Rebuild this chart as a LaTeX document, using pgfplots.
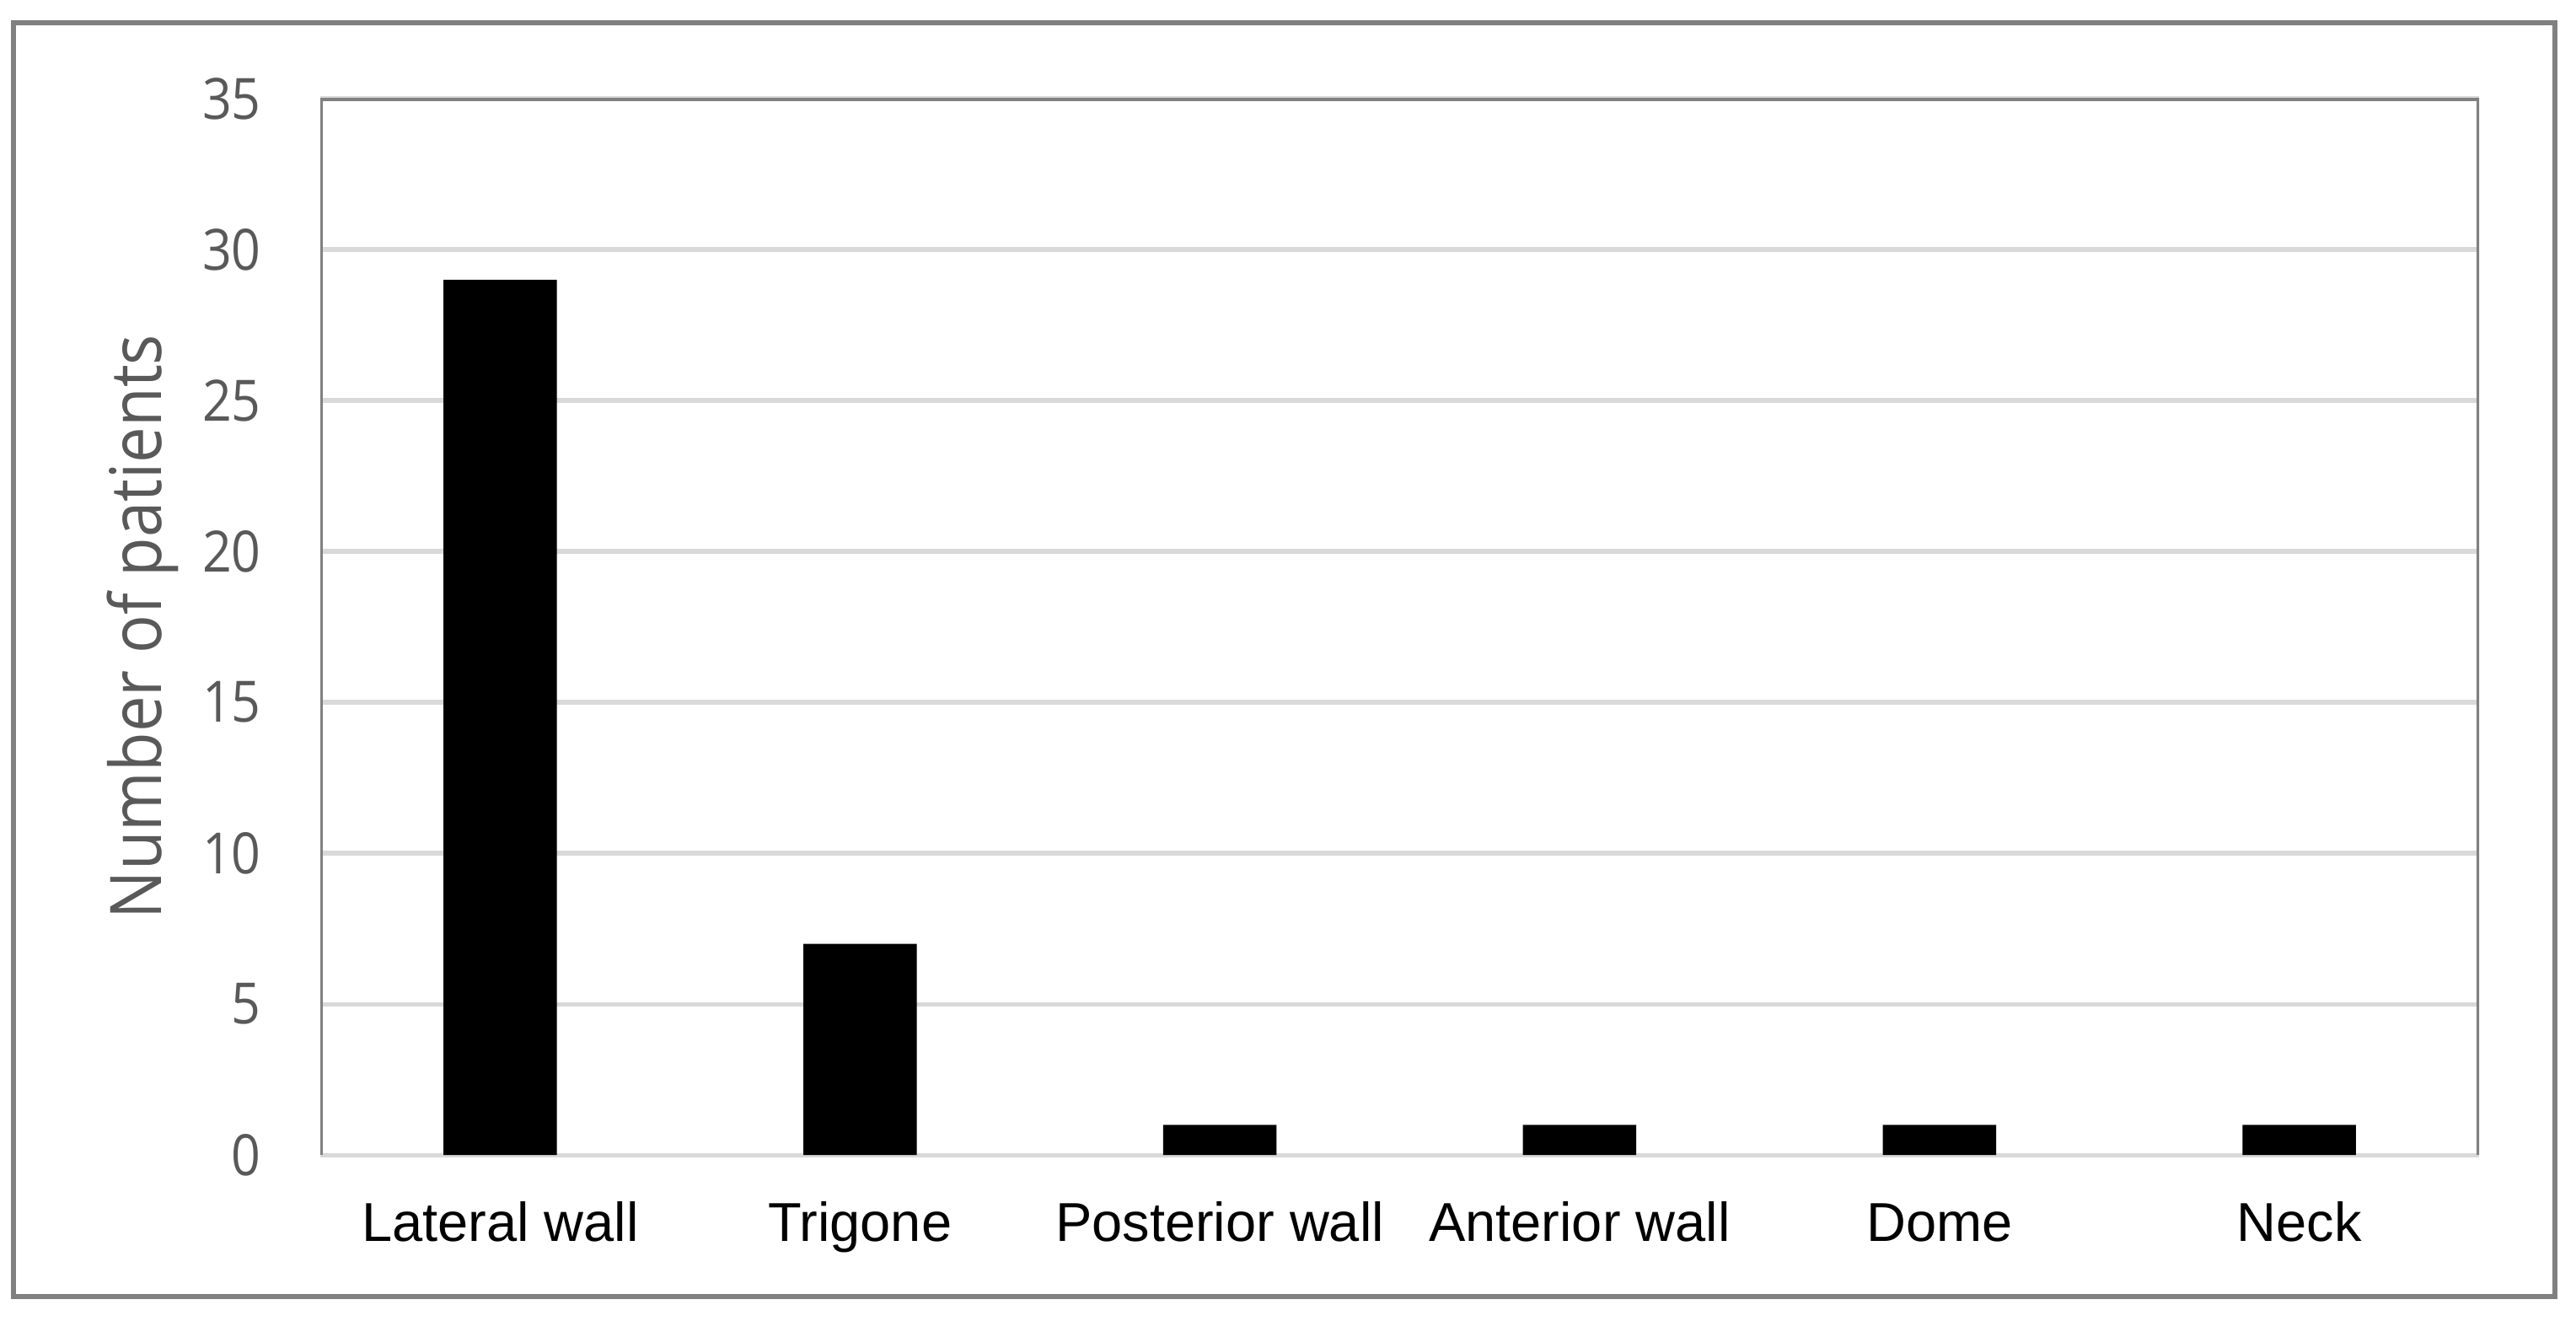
\documentclass[border=0pt]{standalone}
\usepackage{fontspec}
\setmainfont{Liberation Sans}
\newfontfamily\osans{Open Sans}[FakeStretch=0.9]
\usepackage{pgfplots}
\pgfplotsset{compat=1.18}
\definecolor{txtgray}{HTML}{595959}
\definecolor{framegray}{HTML}{808080}
\definecolor{gridgray}{HTML}{D9D9D9}
\begin{document}
\begin{tikzpicture}
\begin{axis}[
  scale only axis,
  width=394.2pt, height=192.9pt,
  xmin=-0.5, xmax=5.5,
  ymin=0, ymax=35,
  ytick={0,5,...,35},
  xtick=data,
  xticklabels={Lateral wall,Trigone,Posterior wall,Anterior wall,Dome,Neck},
  major tick length=0pt,
  axis line style={draw=none},
  ymajorgrids,
  grid style={gridgray, line width=0.8pt},
  ybar, bar width=20.7pt,
  /pgf/number format/assume math mode=true,
  xticklabel style={font=\fontsize{10}{12}\selectfont, text=black, text height=7.2pt, text depth=0pt, yshift=-5pt},
  yticklabel style={font=\osans\fontsize{10.4}{12}\selectfont, text=txtgray, xshift=-7.3pt},
  ylabel={Number of patients},
  every axis y label/.style={at={(axis description cs:0,0.5)}, xshift=-32.4pt, rotate=90, anchor=center, font=\osans\fontsize{13}{15}\selectfont, text=txtgray},
]
\addplot[fill=black, draw=none] coordinates {(0,29) (1,7) (2,1) (3,1) (4,1) (5,1)};
\draw[framegray, line width=0.8pt] (rel axis cs:0,0) -- (rel axis cs:0,1) -- (rel axis cs:1,1) -- (rel axis cs:1,0);
\end{axis}
\draw[framegray, line width=0.9pt] (-56.1pt,-25.8pt) rectangle (408pt,206.7pt);
\path (-58.5pt,-30.3pt) rectangle (411.9pt,210.9pt);
\end{tikzpicture}
\end{document}
